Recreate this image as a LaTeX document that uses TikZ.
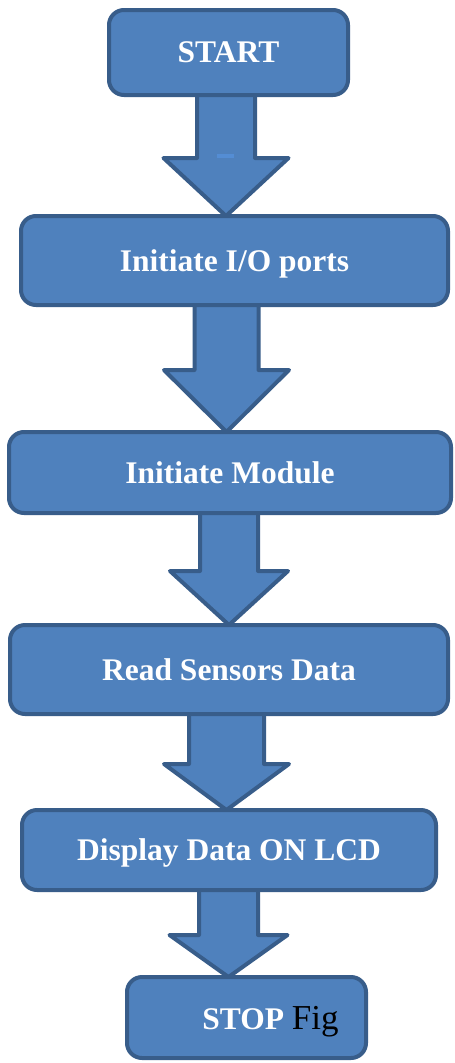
\documentclass[tikz,border=0pt]{standalone}
\usepackage{fontspec}
\setmainfont{Liberation Serif}
\usetikzlibrary{calc,backgrounds}

\definecolor{boxfill}{RGB}{79,129,189}
\definecolor{boxline}{RGB}{56,93,138}
\definecolor{dashblue}{RGB}{84,141,212}

% block arrow: from, to, centre x, half shaft width, head length, half head width
\newcommand{\flowarrow}[6]{%
  \coordinate (ax) at (#3,0);
  \coordinate (atop) at (ax |- #1.south);
  \coordinate (atip) at (ax |- #2.north);
  \draw[blockarrow] ($(atop)+(-#4,0)$) -- ($(atip)+(-#4,-#5)$) -- ($(atip)+(-#6,-#5)$) -- (atip)
    -- ($(atip)+(#6,-#5)$) -- ($(atip)+(#4,-#5)$) -- ($(atop)+(#4,0)$);
}

\begin{document}
\begin{tikzpicture} [x=1pt,y=-1pt,
  flowbox/.style= {draw=boxline,fill=boxfill,line width=4pt,rounded corners=15pt,outer sep=0pt,
    text=white,font=\bfseries\fontsize{31.5}{36}\selectfont,inner sep=0pt,text depth=0pt},
  blockarrow/.style= {draw=boxline,fill=boxfill,line width=4pt,line join=round}]
\path[use as bounding box] (0,0) rectangle (455,1063);

\node[flowbox,minimum width=239pt,minimum height=85pt] (start) at (228.5,52.5) {START};
\node[flowbox,minimum width=427pt,minimum height=89pt] (ports) at (234.5,260.5) {Initiate I/O ports};
\node[flowbox,minimum width=442pt,minimum height=81pt] (module) at (230,472.5) {Initiate Module};
\node[flowbox,minimum width=438pt,minimum height=89pt] (sensors) at (229,669.5) {Read Sensors Data};
\node[flowbox,minimum width=414pt,minimum height=80pt] (lcd) at (229,850) {Display Data ON LCD};
\node[flowbox,minimum width=239pt,minimum height=81pt] (stop) at (246.5,1017.5)
  {\hspace*{48pt}STOP {\color{black}\mdseries\fontsize{35}{40}\selectfont Fig}};

\begin{pgfonlayer}{background}
\fill[white] (0,0) rectangle (455,1063);
\flowarrow{start}{ports}{226}{29}{58}{62.5}
\flowarrow{ports}{module}{226.5}{32}{62}{62.5}
\flowarrow{module}{sensors}{229}{29}{54}{59}
\flowarrow{sensors}{lcd}{226.5}{37.5}{46}{62.5}
\flowarrow{lcd}{stop}{228.5}{29.5}{42}{59}
\end{pgfonlayer}

\fill[dashblue] (217,154) rectangle (234,158);
\end{tikzpicture}
\end{document}
